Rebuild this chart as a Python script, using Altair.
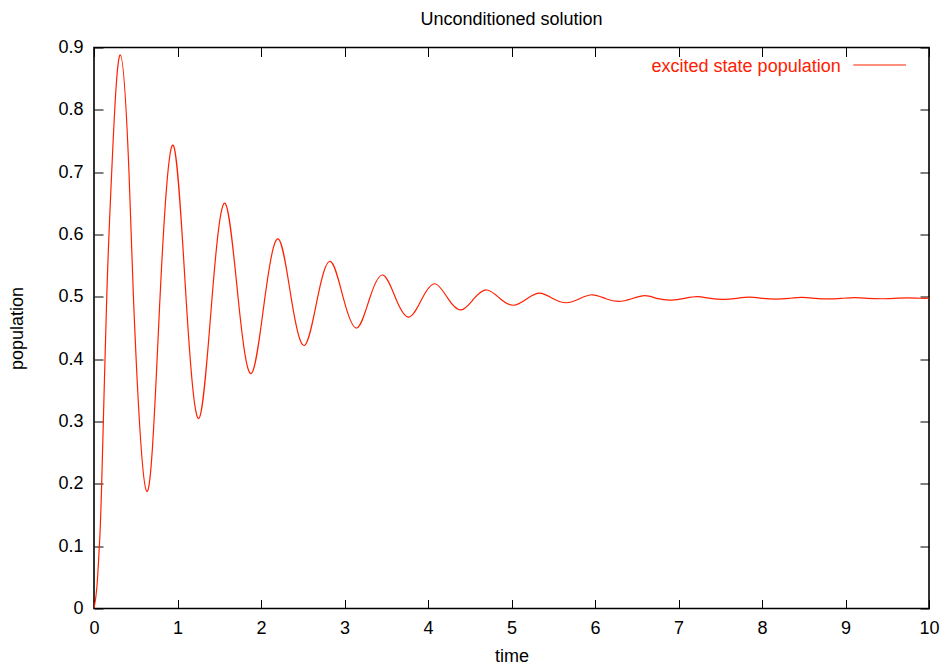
import altair as alt
import pandas as pd

# ---- data ----
time = [0.0, 0.035, 0.064, 0.092, 0.152, 0.212, 0.315, 0.419,
        0.473, 0.631, 0.790, 0.950, 1.103, 1.257, 1.413, 1.569, 1.727, 1.884,
        2.045, 2.207, 2.363, 2.520, 2.675, 2.830, 2.988, 3.146, 3.300, 3.457,
        3.615, 3.772, 3.928, 4.084, 4.240, 4.395, 4.550, 4.705, 4.865, 5.025,
        5.185, 5.340, 5.500, 5.657, 5.815, 5.970, 6.130, 6.285, 6.440, 6.600,
        6.755, 6.915, 7.070, 7.225, 7.380, 7.540, 7.695, 7.850, 8.010, 8.165,
        8.320, 8.480, 8.640, 8.795, 8.950, 9.110, 9.265, 9.425, 9.580, 9.740,
        9.900, 10.0]
population = [0.0, 0.035, 0.10, 0.20, 0.497, 0.70, 0.888, 0.70,
              0.497, 0.188, 0.497, 0.743, 0.497, 0.305, 0.497, 0.650, 0.497, 0.377,
              0.497, 0.593, 0.497, 0.422, 0.497, 0.557, 0.497, 0.450, 0.497, 0.535,
              0.497, 0.4675, 0.497, 0.521, 0.497, 0.479, 0.497, 0.511, 0.497, 0.4865,
              0.497, 0.506, 0.497, 0.4905, 0.497, 0.5033, 0.497, 0.4928, 0.497, 0.5018,
              0.497, 0.4948, 0.4975, 0.5003, 0.4975, 0.4958, 0.4975, 0.4995, 0.4975, 0.4962,
              0.4975, 0.4990, 0.4975, 0.4966, 0.4975, 0.4986, 0.4976, 0.4969, 0.4976, 0.4983,
              0.4977, 0.4978]
x_ticks = [0, 1, 2, 3, 4, 5, 6, 7, 8, 9, 10]
y_ticks = [0, 0.1, 0.2, 0.3, 0.4, 0.5, 0.6, 0.7, 0.8, 0.9]
chart_title = "Unconditioned solution"
series_name = "excited state population"
x_title = "time"
y_title = "population"

df = pd.DataFrame({"time": time, "population": population})
legend_df = pd.DataFrame({"label": [series_name]})

W, H = 835, 561
RED = "#ff2000"
FONT = "Liberation Sans"
FS = 18
TICK = 9

xscale = alt.Scale(domain=[0, 10], nice=False, zero=False)
yscale = alt.Scale(domain=[0, 0.9], nice=False, zero=False)

main = alt.Chart(df).mark_line(color=RED, strokeWidth=1.2, interpolate="natural", clip=True).encode(
    x=alt.X("time:Q", scale=xscale,
            axis=alt.Axis(orient="bottom", values=x_ticks, offset=-TICK, tickSize=TICK,
                          domain=False, grid=False, title=x_title, format="d",
                          labelFlush=False, labelPadding=11, titlePadding=10)),
    y=alt.Y("population:Q", scale=yscale,
            axis=alt.Axis(orient="left", values=y_ticks, offset=-TICK, tickSize=TICK,
                          domain=False, grid=False, title=y_title, format="~g",
                          labelFlush=False, labelPadding=11, titlePadding=31)),
)

mirror = alt.Chart(df).mark_line(opacity=0).encode(
    x=alt.X("time:Q", scale=xscale,
            axis=alt.Axis(orient="top", values=x_ticks, offset=-TICK, tickSize=TICK,
                          domain=False, grid=False, labels=False, title="")),
    y=alt.Y("population:Q", scale=yscale,
            axis=alt.Axis(orient="right", values=y_ticks, offset=-TICK, tickSize=TICK,
                          domain=False, grid=False, labels=False, title="")),
)

legend_text = alt.Chart(legend_df).mark_text(
    align="right", baseline="alphabetic", fontSize=FS, font=FONT, color=RED
).encode(x=alt.value(746.7), y=alt.value(24.2), text="label:N")

legend_line = alt.Chart(legend_df).mark_rule(color=RED, strokeWidth=1.2).encode(
    x=alt.value(759.3), x2=alt.value(812), y=alt.value(17.5)
)

chart = alt.layer(main, mirror, legend_text, legend_line).resolve_axis(
    x="independent", y="independent"
).properties(
    width=W, height=H,
    title=alt.TitleParams(text=chart_title, fontSize=FS, fontWeight="normal", font=FONT,
                          color="black", anchor="middle", offset=10),
    autosize=alt.AutoSizeParams(type="none"),
    padding={"left": 94, "top": 47.5, "right": 17, "bottom": 60.5},
    background="white",
).configure_view(
    stroke="black", strokeWidth=1.6
).configure_axis(
    labelFont=FONT, labelFontSize=FS, labelColor="black",
    titleFont=FONT, titleFontSize=FS, titleFontWeight="normal", titleColor="black",
    tickColor="black", tickWidth=1,
)

chart.save("out.html", embed_options={"renderer": "svg", "actions": False})
